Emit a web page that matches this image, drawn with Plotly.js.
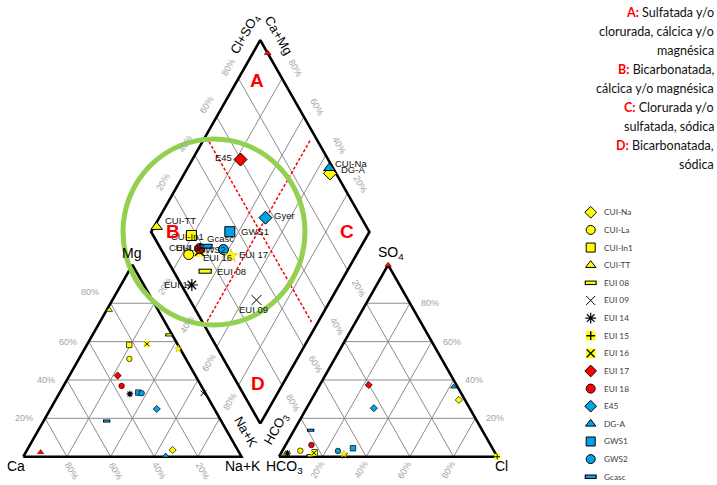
<!DOCTYPE html>
<html><head><meta charset="utf-8">
<script src="https://cdn.plot.ly/plotly-3.0.1.min.js"></script>
<style>html,body{margin:0;padding:0;background:#fff;overflow:hidden}</style>
</head><body><div id="chart" style="width:717px;height:485px"></div>
<script>
// ---------------- DATA (% meq) ----------------
const sampleNames = ['CUI-Na','CUI-La','CUI-In1','CUI-TT','EUI 08','EUI 09','EUI 14','EUI 15','EUI 16','EUI 17','EUI 18','E45','DG-A','GWS1','GWS2','Gcasc','s/n estrella','s/n triángulo'];
const mgPct  = [3.5, 51.0, 58.3, 76.5, 63.5, 33.1, 32.7, null, 58.8, 42.3, 36.9, 24.9, 0.5, 33.4, 33.1, 18.6, 56.2, 2.3];
const nakPct = [66.7, 23.1, 19.4, 1.2, 35.0, 66.0, 32.5, null, 27.2, 22.1, 26.6, 48.7, 65.0, 36.0, 37.7, 28.9, 42.9, 6.8];
const so4Pct = [29.6, 3.1, 2.3, 1.5, 0.5, 0.5, 1.8, 0.0, 2.0, 37.4, 6.1, 25.3, 36.5, 4.4, 3.0, 13.8, 1.4, 100.0];
const clPct  = [67.6, 8.2, 15.2, 2.3, 14.0, 30.0, 3.0, 100.0, 15.0, 22.4, 11.8, 30.8, 61.8, 31.7, 25.5, 7.6, 29.0, 0.0];

const legendNames = ['CUI-Na','CUI-La','CUI-In1','CUI-TT','EUI 08','EUI 09','EUI 14','EUI 15','EUI 16','EUI 17','EUI 18','E45','DG-A','GWS1','GWS2','Gcasc'];

// labels written next to points in the diamond: [text, sample]
const diamondLabelText   = ['E45','CUI-Na','DG-A','Gyer','GWS1','CUI-TT','CUI-In1','Gcasc','CUI-La','EUI 18','GWS2','EUI 16','EUI 17','EUI 08','EUI 14','EUI 09'];
const diamondLabelSample = ['EUI 17','DG-A','CUI-Na','E45','GWS1','CUI-TT','CUI-In1','Gcasc','CUI-La','EUI 18','GWS2','EUI 16','s/n estrella','EUI 08','EUI 14','EUI 09'];

const gridTicks = [20, 40, 60, 80];
const tickLabels = ['20%', '40%', '60%', '80%'];

const zoneLetters = ['A','B','C','D'];
const zoneText = [
  ['A:', ' Sulfatada y/o'], ['', 'clorurada, cálcica y/o'], ['', 'magnésica'],
  ['B:', ' Bicarbonatada,'], ['', 'cálcica y/o magnésica'],
  ['C:', ' Clorurada y/o'], ['', 'sulfatada, sódica'],
  ['D:', ' Bicarbonatada,'], ['', 'sódica']
];

// ---------------- STYLE ----------------
const YEL = '#ffff00', RED = '#ff0000', BLU = '#00a2e8';
const sampleStyle = {
  'CUI-Na': {sym:'diamond', fill:YEL}, 'CUI-La': {sym:'circle', fill:YEL},
  'CUI-In1': {sym:'square', fill:YEL}, 'CUI-TT': {sym:'triangle-up', fill:YEL},
  'EUI 08': {bar:YEL}, 'EUI 09': {sym:'x-thin-open', stroke:'#000', lw:1},
  'EUI 14': {sym:'asterisk-open', stroke:'#000', lw:1.2},
  'EUI 15': {sym:'cross-thin-open', bg:YEL, k:0.7}, 'EUI 16': {sym:'x-thin-open', bg:YEL, k:0.88},
  'EUI 17': {sym:'diamond', fill:RED}, 'EUI 18': {sym:'circle', fill:RED},
  'E45': {sym:'diamond', fill:BLU}, 'DG-A': {sym:'triangle-up', fill:BLU},
  'GWS1': {sym:'square', fill:BLU}, 'GWS2': {sym:'circle', fill:BLU},
  'Gcasc': {bar:BLU},
  's/n estrella': {sym:'star', fill:YEL, line:'#c9b800', lw:0.6},
  's/n triángulo': {sym:'triangle-up', fill:RED, line:'#7a0000', lw:0.6, small:true}
};
// label offsets in px: [xanchor, dx, dy(down +)]
const labelOffset = [['right',-7,-2],['left',4,-5],['left',9,-3.4],['left',6,-2],['left',9,0],['left',6,-6],
  ['center',-4,0.6],['left',-1,-8],['center',-4,-7.5],['center',-9,-1],['right',5,0],['left',2,6],
  ['left',6,-1],['left',10,0],['right',3,-1],['center',-3,10]];
const mgLabelLift = [0, 0, 0, 11];

// ---------------- GEOMETRY ----------------
const H = Math.sqrt(3) / 2, G = 0.172;
const X_PX = 218.2, Y_PX = 221.5, X0 = 23.3, Y0 = 456.7, W = 717, HGT = 485;
function catXY(mg, nak) { const m = mg/100, n = nak/100; return [n + m/2, m*H]; }
function anXY(so4, cl) { const s = so4/100, c = cl/100; return [1 + G + c + s/2, s*H]; }
function nbXY(n, b) { return [1 + G/2 + 0.5*(n - b), G*H + H*(2 - n - b)]; }
function diaXY(nak, so4, cl) { return nbXY(nak/100, 1 - (so4 + cl)/100); }

const traces = [];
function seg(a, p, q) { a.x.push(p[0], q[0], null); a.y.push(p[1], q[1], null); }

// grid
const grid = {x:[], y:[]};
gridTicks.forEach(v => {
  seg(grid, catXY(v,0), catXY(v,100-v));
  seg(grid, catXY(0,100-v), catXY(100-v,0));
  seg(grid, catXY(0,v), catXY(100-v,v));
  seg(grid, anXY(v,0), anXY(v,100-v));
  seg(grid, anXY(0,v), anXY(100-v,v));
  seg(grid, anXY(0,100-v), anXY(100-v,0));
  seg(grid, nbXY(v/100,0), nbXY(v/100,1));
  seg(grid, nbXY(0,v/100), nbXY(1,v/100));
});
traces.push({type:'scatter', mode:'lines', x:grid.x, y:grid.y, line:{color:'#8c8c8c', width:1}, hoverinfo:'skip', showlegend:false});

// red dashed zone lines
const dash = {x:[], y:[]};
seg(dash, nbXY(0.49,1.0), nbXY(0.49,0.03));
seg(dash, nbXY(0.03,0.5), nbXY(0.97,0.5));
traces.push({type:'scatter', mode:'lines', x:dash.x, y:dash.y, line:{color:RED, width:1.5, dash:'3px,2px'}, hoverinfo:'skip', showlegend:false});

// outlines
const out = {x:[], y:[]};
[[catXY(0,0), catXY(0,100), catXY(100,0)], [anXY(0,0), anXY(0,100), anXY(100,0)],
 [nbXY(1,1), nbXY(1,0), nbXY(0,0), nbXY(0,1)]].forEach(poly => {
  poly.concat([poly[0]]).forEach(p => { out.x.push(p[0]); out.y.push(p[1]); });
  out.x.push(null); out.y.push(null);
});
traces.push({type:'scatter', mode:'lines', x:out.x, y:out.y, line:{color:'#000', width:2.6}, hoverinfo:'skip', showlegend:false});

// markers
function addMarker(xs, ys, st, size, xa, ya) {
  const base = {type:'scatter', mode:'markers', x:xs, y:ys, xaxis:xa, yaxis:ya, hoverinfo:'skip', showlegend:false, cliponaxis:false};
  if (st.bar) {
    traces.push(Object.assign({}, base, {marker:{symbol:'line-ew-open', size:size*0.95, color:'#000', line:{color:'#000', width:Math.max(3, size*0.5)}}}));
    traces.push(Object.assign({}, base, {marker:{symbol:'line-ew-open', size:size*0.95-1.6, color:st.bar, line:{color:st.bar, width:Math.max(1.4, size*0.5-2)}}}));
  } else if (st.bg) {
    traces.push(Object.assign({}, base, {marker:{symbol:'square', size:size*1.05, color:st.bg, line:{width:0}}}));
    traces.push(Object.assign({}, base, {marker:{symbol:st.sym, size:size*st.k, color:'#000', line:{color:'#000', width:size > 7 ? 1.4 : 0.9}}}));
  } else if (st.stroke) {
    traces.push(Object.assign({}, base, {marker:{symbol:st.sym, size:size, color:st.stroke, line:{color:st.stroke, width:st.lw}}}));
  } else {
    traces.push(Object.assign({}, base, {marker:{symbol:st.sym, size:size, color:st.fill, line:{color:st.line || '#000', width:st.lw != null ? st.lw : (size > 7 ? 1 : 0.7)}}}));
  }
}

sampleNames.forEach((nm, i) => {
  const st = sampleStyle[nm];
  if (mgPct[i] != null) {
    const p = catXY(mgPct[i], nakPct[i]);
    addMarker([p[0]], [p[1]], st, 5.5, 'x', 'y');
  }
  if (so4Pct[i] != null) {
    const p = anXY(so4Pct[i], clPct[i]);
    addMarker([p[0]], [p[1]], st, 5.5, 'x', 'y');
  }
  if (nakPct[i] != null && so4Pct[i] != null) {
    const p = diaXY(nakPct[i], so4Pct[i], clPct[i]);
    addMarker([p[0]], [p[1]], st, st.small ? 6 : 10, 'x', 'y');
  }
});

// legend (pixel overlay axes)
const LEG_X = 590.7, LEG_Y0 = 212.3, LEG_DY = 17.63;
legendNames.forEach((nm, i) => addMarker([LEG_X], [LEG_Y0 + i*LEG_DY], sampleStyle[nm], 9, 'x2', 'y2'));

// ---------------- ANNOTATIONS ----------------
const ann = [];
const BASEFONT = 'Liberation Sans, Arial, sans-serif';
function A(o) { ann.push(Object.assign({showarrow:false, xref:'x', yref:'y', xanchor:'center', yanchor:'middle'}, o)); }
const pctFont = {family:BASEFONT, size:9, color:'#a3a3a3'};

gridTicks.forEach((v, k) => {
  const t = tickLabels[k];
  let p = catXY(v, 0); A({x:p[0], y:p[1], text:t, font:pctFont, xanchor:'right', xshift:-10, yshift:mgLabelLift[k]});  // Mg
  p = catXY(0, 100 - v); A({x:p[0], y:p[1], text:t, font:pctFont, textangle:60, xshift:5, yshift:-14});         // Ca
  p = anXY(v, 100 - v); A({x:p[0], y:p[1], text:t, font:pctFont, xanchor:'left', xshift:9});                    // SO4
  p = anXY(0, v); A({x:p[0], y:p[1], text:t, font:pctFont, textangle:-60, xshift:-5.5, yshift:-13});            // Cl
  p = nbXY(v/100, 1); A({x:p[0], y:p[1], text:t, font:pctFont, textangle:-60, xshift:-8, yshift:-16});           // Na+K
  p = nbXY(1, v/100); A({x:p[0], y:p[1], text:t, font:pctFont, textangle:60, xshift:11, yshift:-17.5});          // HCO3
  p = nbXY(0, 1 - v/100); A({x:p[0], y:p[1], text:t, font:pctFont, textangle:-60, xshift:-10, yshift:11.6});     // Cl+SO4
  p = nbXY(1 - v/100, 0); A({x:p[0], y:p[1], text:t, font:pctFont, textangle:60, xshift:13, yshift:10});         // Ca+Mg
});

// labels beside diamond points
diamondLabelText.forEach((t, k) => {
  const i = sampleNames.indexOf(diamondLabelSample[k]);
  const p = diaXY(nakPct[i], so4Pct[i], clPct[i]);
  const o = labelOffset[k];
  A({x:p[0], y:p[1], text:t, xanchor:o[0], xshift:o[1], yshift:-o[2], font:{family:BASEFONT, size:9.5, color:'#111'}});
});

// pixel-space annotations
function P(o) { ann.push(Object.assign({showarrow:false, xref:'x2', yref:'y2', xanchor:'center', yanchor:'middle'}, o)); }
const axFont = {family:BASEFONT, size:14, color:'#000'};
P({x:16, y:466, text:'Ca', font:axFont});
P({x:243, y:466, text:'Na+K', font:axFont});
P({x:131, y:253, text:'Mg', font:axFont});
P({x:284, y:467, text:'HCO<sub>3</sub>', font:axFont});
P({x:501, y:466, text:'Cl', font:axFont});
P({x:391, y:253, text:'SO<sub>4</sub>', font:axFont});
const axFont2 = {family:BASEFONT, size:13, color:'#000'};
P({x:246, y:431, text:'Na+K', font:axFont2, textangle:60});
P({x:276, y:429, text:'HCO<sub>3</sub>', font:axFont2, textangle:-60});
P({x:245, y:34, text:'Cl+SO<sub>4</sub>', font:axFont2, textangle:-60});
P({x:279, y:35, text:'Ca+Mg', font:axFont2, textangle:60});

const letterPos = [[256.7, 80], [173.3, 231.7], [346.7, 231.7], [258.3, 383.3]];
zoneLetters.forEach((L, k) => P({x:letterPos[k][0], y:letterPos[k][1], text:'<b>' + L + '</b>', font:{family:BASEFONT, size:19, color:RED}}));

zoneText.forEach((ln, k) => {
  const txt = (ln[0] ? '<span style="color:#ff0000"><b>' + ln[0] + '</b></span>' : '') + ln[1];
  P({x:716, y:12.3 + k*19.0, text:txt, xanchor:'right', font:{family:'Lato, sans-serif', size:12.5, color:'#111'}});
});

legendNames.forEach((nm, i) => P({x:601.7, y:LEG_Y0 + i*LEG_DY, text:nm, xanchor:'left', font:{family:'Lato, sans-serif', size:8.3, color:'#404040'}}));

// ---------------- LAYOUT ----------------
const layout = {
  width: W, height: HGT, margin:{l:0, r:0, t:0, b:0}, paper_bgcolor:'#fff', plot_bgcolor:'rgba(0,0,0,0)',
  showlegend:false,
  xaxis:{range:[-X0/X_PX, (W - X0)/X_PX], visible:false, fixedrange:true},
  yaxis:{range:[-(HGT - Y0)/Y_PX, Y0/Y_PX], visible:false, fixedrange:true},
  xaxis2:{range:[0, W], overlaying:'x', visible:false, fixedrange:true},
  yaxis2:{range:[HGT, 0], overlaying:'y', visible:false, fixedrange:true},
  shapes:[{type:'circle', xref:'x2', yref:'y2', x0:123, x1:305, y0:139, y1:325, line:{color:'#92d050', width:5}, layer:'above'}],
  annotations: ann
};
Plotly.newPlot('chart', traces, layout, {displayModeBar:false, staticPlot:true});
</script></body></html>
